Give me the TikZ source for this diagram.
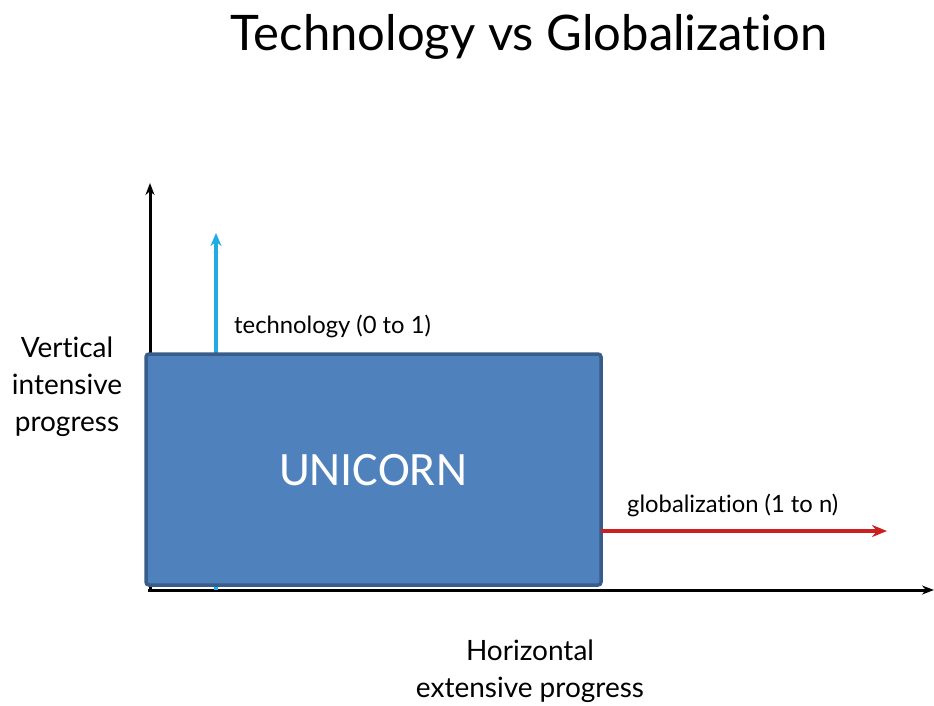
\documentclass[tikz,border=0pt]{standalone}
\usepackage{fontspec}
\setmainfont{Lato}[Ligatures=NoCommon]
\newfontfamily\calibri{Carlito}
\usetikzlibrary{arrows.meta}
\definecolor{boxfill}{RGB}{79,129,189}
\definecolor{boxline}{RGB}{56,93,138}
\definecolor{techcyan}{RGB}{32,172,226}
\definecolor{globred}{RGB}{204,32,32}
\tikzset{
  axis/.style={line width=3pt, black, -{Stealth[length=12pt,width=9pt]}},
  techarrow/.style={line width=3.5pt, techcyan, -{Stealth[length=13pt,width=11pt]}},
  globarrow/.style={line width=3.5pt, globred, -{Stealth[length=15pt,width=12pt]}},
  lbl/.style={inner sep=0pt, anchor=west, font=\fontsize{23.8}{27}\selectfont},
  sidelbl/.style={inner sep=0pt, align=center, font=\fontsize{28}{37}\selectfont},
  unibox/.style={draw=boxline, fill=boxfill, line width=3.5pt, rounded corners=3pt}
}
\begin{document}
\begin{tikzpicture}[x=1pt,y=-1pt]
\useasboundingbox (0,0) rectangle (934,705);
% title
\node[inner sep=0pt, font=\fontsize{49}{55}\selectfont] (title) at (529,37) {Technology vs Globalization};
% axes
\coordinate (origin) at (150,590);
\coordinate (ytop) at (150,183);
\coordinate (xstart) at (148,590);
\coordinate (xend) at (934,590);
\draw[axis] (origin) -- (ytop);
\draw[axis] (xstart) -- (xend);
% technology arrow
\coordinate (tbot) at (216,590);
\coordinate (ttop) at (216,233);
\draw[techarrow] (tbot) -- (ttop);
\node[lbl] (techlbl) at (234,326) {technology (0 to 1)};
% unicorn box
\draw[unibox] (146,354) rectangle (601,585);
\node[inner sep=0pt, text=white, font=\calibri\fontsize{48}{50}\selectfont] (unicorn) at (373,470) {UNICORN};
% globalization arrow
\coordinate (gstart) at (601,531);
\coordinate (gend) at (887,531);
\draw[globarrow] (gstart) -- (gend);
\node[lbl] (globlbl) at (627,505) {globalization (1 to n)};
% side labels
\node[sidelbl] (vlabel) at (67,387) {Vertical\\intensive\\progress};
\node[sidelbl] (hlabel) at (530,671) {Horizontal\\extensive progress};
\end{tikzpicture}
\end{document}
